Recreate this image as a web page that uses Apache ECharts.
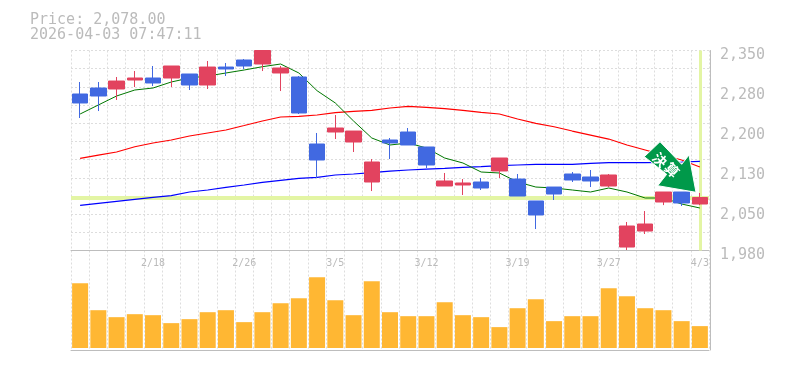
<!DOCTYPE html>
<html>
<head>
<meta charset="utf-8">
<title>Price chart</title>
<script src="https://cdn.jsdelivr.net/npm/echarts@6/dist/echarts.min.js"></script>
<style>
html, body { margin: 0; padding: 0; background: #fff; }
#chart { width: 785px; height: 370px; }
</style>
</head>
<body>
<div id="chart"></div>
<script>
var titleText = 'Price: 2,078.00\n2026-04-03 07:47:11';
var lastPrice = 2078;

var dates = ['2/12','2/13','2/16','2/17','2/18','2/19','2/20','2/24','2/25','2/26','2/27','3/2','3/3','3/4','3/5','3/6','3/9','3/10','3/11','3/12','3/13','3/16','3/17','3/18','3/19','3/23','3/24','3/25','3/26','3/27','3/30','3/31','4/1','4/2','4/3'];
var dateLabels = ['2/18','2/26','3/5','3/12','3/19','3/27','4/3'];
var priceTicks = [1980,2054,2128,2202,2276,2350];
var priceLabels = ['1,980','2,050','2,130','2,200','2,280','2,350'];

// open, close, low, high
var candles = [
  [2269.5,2252.9,2225.1,2291.7],[2280.6,2265.8,2238.0,2291.7],[2278.8,2293.5,2258.4,2301.0],[2295.4,2299.1,2282.4,2312.1],
  [2299.1,2289.9,2284.3,2321.3],[2299.1,2321.3,2282.4,2321.3],[2306.5,2286.2,2276.9,2306.5],[2286.2,2319.4,2278.8,2330.6],
  [2319.4,2315.8,2302.8,2326.9],[2332.4,2321.3,2315.8,2334.2],[2325.0,2350.0,2312.0,2350.0],[2308.4,2317.6,2275.0,2321.3],
  [2301.0,2234.4,2232.5,2302.8],[2177.0,2147.4,2114.1,2197.4],[2199.2,2206.6,2186.2,2230.7],[2180.7,2201.0,2162.2,2201.0],
  [2106.7,2143.7,2090.0,2149.2],[2184.4,2178.9,2149.2,2188.1],[2199.2,2175.2,2175.2,2206.6],[2171.5,2138.2,2132.6,2171.5],
  [2099.3,2108.6,2099.3,2123.4],[2101.2,2104.9,2082.7,2112.2],[2106.7,2095.6,2091.9,2114.1],[2127.1,2151.1,2114.1,2151.1],
  [2112.2,2080.8,2080.8,2121.5],[2071.6,2045.7,2019.7,2071.6],[2097.4,2084.5,2073.4,2097.4],[2121.5,2110.4,2106.7,2125.2],
  [2116.0,2108.6,2097.4,2128.9],[2099.3,2119.7,2097.4,2121.5],[1986.4,2025.3,1980.9,2032.7],[2016.0,2029.0,2010.5,2053.0],
  [2069.7,2088.2,2064.0,2088.2],[2088.2,2067.9,2062.3,2088.2],[2066.0,2078.0,2064.0,2086.4]
];
var maShort = [2232.5,2249.2,2265.8,2276.9,2280.6,2291.7,2299.1,2302.8,2308.4,2313.9,2320,2325,2308.4,2275.6,2252.9,2219.6,2188.1,2175.2,2178.9,2169.6,2151.1,2141.9,2125.2,2123.4,2106.7,2097.4,2095.6,2091.9,2088.2,2095.6,2088.2,2077.1,2077.1,2066,2058.6];
var maMid = [2150.5,2156.6,2162.2,2172,2178.9,2184.4,2191.8,2197.4,2202.9,2211.2,2219.6,2227,2228.3,2230.7,2234.9,2237.5,2239.3,2243.6,2246.7,2244.9,2242.3,2239.3,2235.6,2232.5,2223.3,2215.3,2209,2201,2193.6,2186.2,2175.2,2166,2156.6,2147.4,2134.4];
var maLong = [2063.6,2067.3,2071,2074.7,2078.4,2081.4,2088.2,2091.9,2096.9,2101.2,2106.1,2109.8,2113.5,2115.4,2119.7,2121.5,2123.9,2127,2128.9,2130.7,2132,2133.9,2135,2136.9,2138.2,2139.4,2139.4,2139.4,2141.3,2142.4,2142.4,2142.4,2142.8,2143.7,2145];
var volumes = [65,38,31,34,33,25,29,36,38,26,36,45,50,71,48,33,67,36,32,32,46,33,31,21,40,49,27,32,32,60,52,40,38,27,22];

var monoFont = '"DejaVu Sans Mono", monospace';
var textGrey = '#bbbbbb';
var axisGrey = '#bdbdbd';
var gridLine = { show: true, lineStyle: { color: '#dddddd', width: 1, type: [2, 2] } };

var chart = echarts.init(document.getElementById('chart'), null, { renderer: 'canvas' });

chart.setOption({
  animation: false,
  backgroundColor: '#fff',
  title: {
    text: titleText,
    left: 25,
    top: 8,
    textStyle: { color: textGrey, fontFamily: monoFont, fontSize: 15, fontWeight: 'normal', lineHeight: 15 }
  },
  grid: [
    { left: 71, width: 638, top: 50.5, height: 200 },
    { left: 71, width: 638, top: 250.5, height: 99.5 }
  ],
  xAxis: [
    {
      type: 'category', gridIndex: 0, data: dates,
      axisLine: { show: true, onZero: false, lineStyle: { color: axisGrey } },
      axisTick: { show: false },
      splitLine: Object.assign({ interval: 0 }, gridLine),
      axisLabel: {
        color: textGrey, fontFamily: monoFont, fontSize: 10, margin: 8,
        interval: function (index, value) { return dateLabels.indexOf(value) >= 0; }
      }
    },
    {
      type: 'category', gridIndex: 1, data: dates,
      axisLine: { show: true, onZero: false, lineStyle: { color: axisGrey, width: 1 } },
      axisTick: { show: false },
      splitLine: Object.assign({ interval: 0 }, gridLine),
      axisLabel: { show: false }
    }
  ],
  yAxis: [
    {
      type: 'value', gridIndex: 0, position: 'right', offset: 1, min: 1980, max: 2350,
      axisLine: { show: true, lineStyle: { color: axisGrey } },
      axisTick: { show: false },
      splitLine: { show: false },
      axisLabel: {
        customValues: priceTicks,
        color: textGrey, fontFamily: monoFont, fontSize: 15, margin: 10,
        verticalAlign: 'top', lineHeight: 10,
        formatter: function (v) { return priceLabels[priceTicks.indexOf(v)]; }
      }
    },
    // 横の点線だけ用の軸
    {
      type: 'value', gridIndex: 0, position: 'left', min: 0, max: 11, interval: 1,
      axisLine: { show: false }, axisTick: { show: false }, axisLabel: { show: false },
      splitLine: gridLine
    },
    {
      type: 'value', gridIndex: 1, position: 'right', offset: 1, min: -2, max: 98,
      axisLine: { show: true, lineStyle: { color: axisGrey } },
      axisTick: { show: false }, axisLabel: { show: false }, splitLine: { show: false }
    }
  ],
  series: [
    {
      name: 'long', type: 'line', xAxisIndex: 0, yAxisIndex: 0, data: maLong, z: 2,
      showSymbol: false, lineStyle: { color: '#0000ff', width: 1.2 },
      markLine: {
        silent: true, symbol: 'none', z: 1, animation: false, label: { show: false },
        lineStyle: { color: '#e3f5a4', type: 'solid' },
        data: [
          { yAxis: lastPrice, lineStyle: { width: 4 } },
          { xAxis: dates[dates.length - 1], lineStyle: { width: 3 } }
        ]
      }
    },
    {
      name: 'mid', type: 'line', xAxisIndex: 0, yAxisIndex: 0, data: maMid, z: 2,
      showSymbol: false, lineStyle: { color: '#ff0000', width: 1.2 }
    },
    {
      name: 'short', type: 'line', xAxisIndex: 0, yAxisIndex: 0, data: maShort, z: 2,
      showSymbol: false, lineStyle: { color: '#007700', width: 1 }
    },
    {
      name: 'price', type: 'candlestick', xAxisIndex: 0, yAxisIndex: 0, data: candles, z: 3,
      barWidth: 16,
      itemStyle: { color: '#e2435f', color0: '#4169e1', borderColor: '#e2435f', borderColor0: '#4169e1', borderWidth: 1 }
    },
    {
      name: 'volume', type: 'bar', xAxisIndex: 1, yAxisIndex: 2, data: volumes,
      barWidth: 16, itemStyle: { color: '#ffb733' }
    }
  ],
  graphic: [
    {
      type: 'polygon', z: 100, silent: true,
      shape: { points: [[644.3,156.7],[660,141.7],[681.7,164.3],[689,155],[696,192.3],[657.7,185.7],[666.7,174.3]] },
      style: { fill: '#00994a', stroke: '#ffffff', lineWidth: 1 }
    },
    {
      type: 'text', z: 101, silent: true, x: 660, y: 160, rotation: -Math.PI / 4,
      style: {
        text: '決', fill: '#ffffff', fontFamily: '"Noto Sans CJK JP"', fontSize: 14, fontWeight: 'bold',
        align: 'center', verticalAlign: 'middle'
      }
    },
    {
      type: 'text', z: 101, silent: true, x: 672, y: 170, rotation: -Math.PI / 4,
      style: {
        text: '算', fill: '#ffffff', fontFamily: '"Noto Sans CJK JP"', fontSize: 14, fontWeight: 'bold',
        align: 'center', verticalAlign: 'middle'
      }
    }
  ]
});

window.onresize = function () { chart.resize(); };
</script>
</body>
</html>
